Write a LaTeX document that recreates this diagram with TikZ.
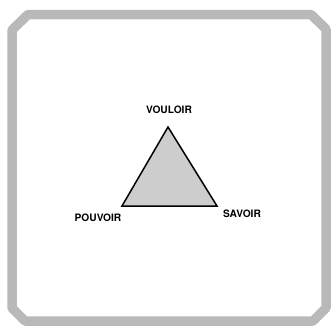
\documentclass[tikz,border=0pt]{standalone}
\usepackage{fontspec}
\newfontfamily\heros{TeX Gyre Heros}
\usepackage{tikz}
\definecolor{stipple}{RGB}{185,185,185}
\definecolor{dotfill}{RGB}{205,205,205}

\begin{document}
\begin{tikzpicture}[x=1pt,y=-1pt,line join=round,
    corner/.style={font=\heros\bfseries\fontsize{10.2}{12}\selectfont,inner sep=0pt}]
  \useasboundingbox (0,0) rectangle (331,325);
  % stippled frame with cut corners
  \draw[stipple,line width=9.5pt] (12,30) -- (28,14.5) -- (311,14.5) -- (326,29)
    -- (326,308) -- (313,321) -- (25,321) -- (12,308) -- cycle;
  % the triangle
  \coordinate (top) at (168,127);
  \coordinate (left) at (122,206);
  \coordinate (right) at (217,206);
  \filldraw[fill=dotfill,draw=black,line width=1.5pt,line join=miter] (top) -- (left) -- (right) -- cycle;
  \node[corner] (vouloir) at (169,110) {VOULOIR};
  \node[corner] (pouvoir) at (98,218) {POUVOIR};
  \node[corner] (savoir) at (242,214) {SAVOIR};
\end{tikzpicture}
\end{document}
